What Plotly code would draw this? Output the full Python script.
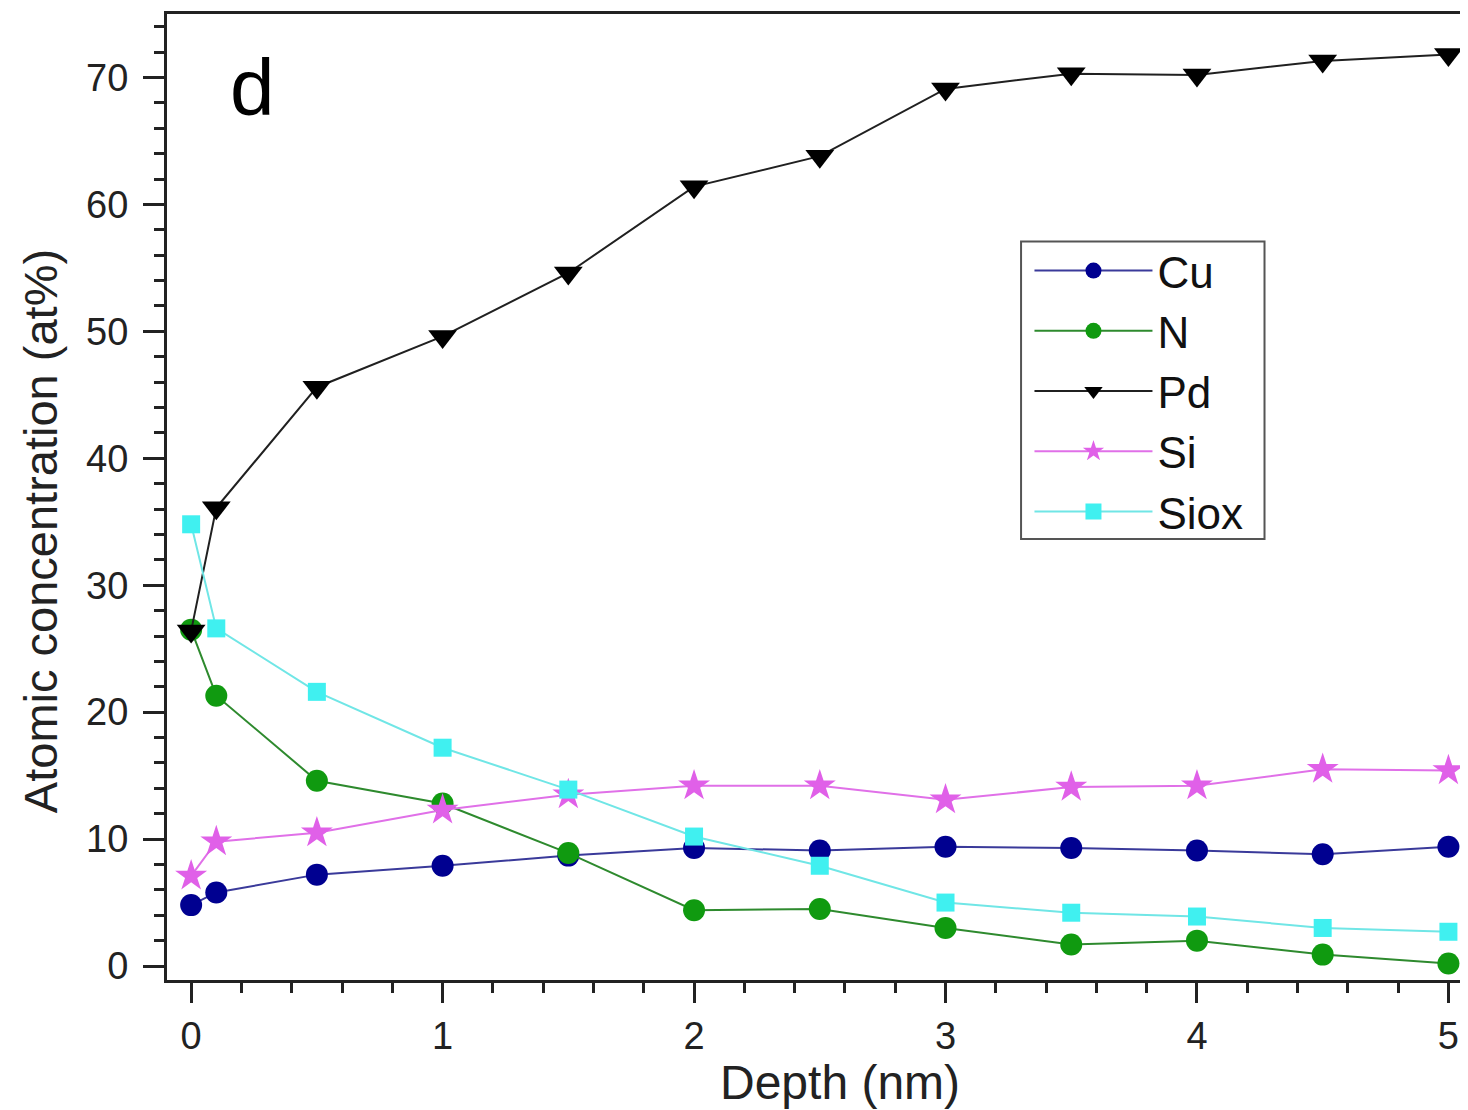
import plotly.graph_objects as go

depth = [0, 0.1, 0.5, 1, 1.5, 2, 2.5, 3, 3.5, 4, 4.5, 5]
cu = [4.8, 5.8, 7.2, 7.9, 8.7, 9.3, 9.1, 9.4, 9.3, 9.1, 8.8, 9.4]
n = [26.5, 21.3, 14.6, 12.8, 8.9, 4.4, 4.5, 3.0, 1.7, 2.0, 0.9, 0.2]
pd_ = [26.4, 36.1, 45.6, 49.6, 54.6, 61.4, 63.8, 69.1, 70.3, 70.2, 71.3, 71.8]
si = [7.1, 9.8, 10.5, 12.3, 13.5, 14.2, 14.2, 13.1, 14.1, 14.2, 15.5, 15.4]
siox = [34.8, 26.6, 21.6, 17.2, 13.9, 10.2, 7.9, 5.0, 4.2, 3.9, 3.0, 2.7]

series = [
    ("Cu", cu, "#000090", "#3a3a9a", "circle", 22),
    ("N", n, "#109a10", "#2e8a2e", "circle", 22),
    ("Pd", pd_, "#000000", "#202020", "triangle-down", 25),
    ("Si", si, "#e060e8", "#e070e8", "star", 24),
    ("Siox", siox, "#40f0f0", "#70e6e6", "square", 18),
]

fig = go.Figure()
for name, vals, mcol, lcol, sym, size in series:
    fig.add_trace(go.Scatter(
        x=depth, y=vals, name=name, mode="lines+markers",
        line=dict(color=lcol, width=2),
        marker=dict(color=mcol, symbol=sym, size=size, line=dict(width=0)),
    ))

font_family = "Arial, Liberation Sans, sans-serif"
title_color = "#222222"

fig.update_layout(
    width=1460, height=1102,
    margin=dict(l=159, r=3, t=4, b=130),
    paper_bgcolor="white", plot_bgcolor="white",
    font=dict(family=font_family, color="#1a1a1a"),
    showlegend=True,
    legend=dict(
        x=0.666, y=0.7707, xanchor="left", yanchor="top",
        borderwidth=0, bgcolor="rgba(0,0,0,0)",
        font=dict(size=44, family=font_family, color="#111111"),
        itemwidth=118, tracegroupgap=0,
    ),
    shapes=[dict(
        type="rect", xref="paper", yref="paper",
        x0=0.6595, x1=0.8475, y0=0.4566, y1=0.7645,
        line=dict(color="#555555", width=2), fillcolor="white", layer="above",
    )],
    annotations=[
        dict(
            text="d", x=0.066, y=0.924, xref="paper", yref="paper",
            xanchor="center", yanchor="middle",
            showarrow=False, font=dict(size=80, family=font_family, color="#000000"),
        ),
        dict(
            text="Depth (nm)", x=0.520, y=-0.106, xref="paper", yref="paper",
            xanchor="center", yanchor="middle",
            showarrow=False, font=dict(size=48, family=font_family, color=title_color),
        ),
        dict(
            text="Atomic concentration (at%)", x=-0.0978, y=0.465, xref="paper", yref="paper",
            xanchor="center", yanchor="middle", textangle=-90,
            showarrow=False, font=dict(size=47, family=font_family, color=title_color),
        ),
    ],
)

fig.update_xaxes(
    range=[-0.096, 5.054], tickmode="linear", tick0=0, dtick=1,
    ticks="outside", ticklen=20, tickwidth=2.5, tickcolor="#222222",
    showline=True, linewidth=3, linecolor="#222222", mirror=True,
    showgrid=False, zeroline=False,
    tickfont=dict(size=38, family=font_family, color="#222222"),
    minor=dict(dtick=0.2, tick0=0, ticks="outside", ticklen=10, tickwidth=2.5, tickcolor="#222222", showgrid=False),
)
fig.update_yaxes(
    range=[-1.1, 75.0], tickmode="linear", tick0=0, dtick=10,
    ticks="outside", ticklen=21, tickwidth=2.5, tickcolor="#222222",
    showline=True, linewidth=3, linecolor="#222222", mirror=True,
    showgrid=False, zeroline=False, ticklabelstandoff=7,
    tickfont=dict(size=38, family=font_family, color="#222222"),
    minor=dict(dtick=2, tick0=0, ticks="outside", ticklen=10, tickwidth=2.5, tickcolor="#222222", showgrid=False),
)

fig.write_html("out.html")
